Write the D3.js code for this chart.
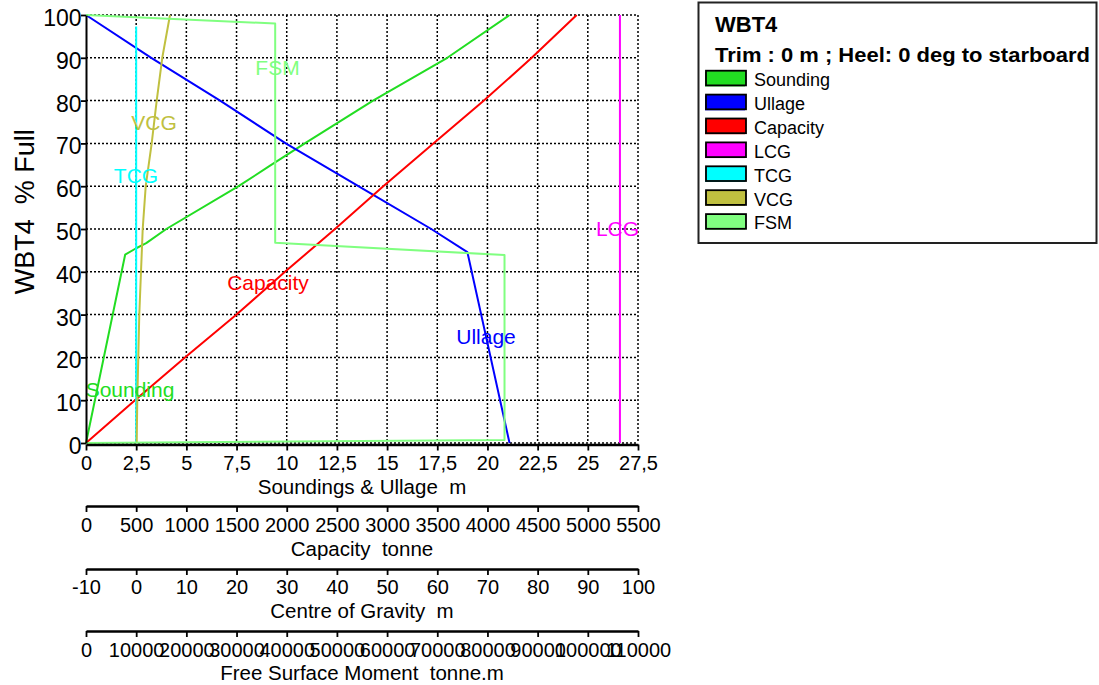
<!DOCTYPE html>
<html>
<head>
<meta charset="utf-8">
<script src="https://cdn.jsdelivr.net/npm/d3@7"></script>
<style>
  html, body { margin: 0; padding: 0; background: #fff; }
  svg { display: block; font-family: "Liberation Sans", Arial, sans-serif; }
</style>
</head>
<body>
<svg id="chart" width="1099" height="685"></svg>
<script>
// ---- data ----
const soundingPct = [0, 44, 45.5, 46.7, 50, 60, 64.8, 70, 80, 90, 100];
const soundingM   = [0, 1.95, 2.5, 3.0, 4.0, 7.6, 9.17, 10.9, 14.3, 18.0, 21.1];

const ullagePct = [100, 90, 80, 70, 60, 50, 44.6, 0];
const ullageM   = [0, 3.25, 6.68, 9.95, 13.57, 17.2, 19.0, 21.1];

const capacityPct = [0, 10, 20, 30, 40, 50, 60, 70, 80, 90, 100];
const capacityT   = [0, 488, 986, 1500, 1983, 2481, 2962, 3461, 3965, 4441, 4889];

const lcgPct = [0, 100];
const lcgM   = [96.4, 96.4];

const tcgPct = [0, 97.3];
const tcgM   = [0, 0];

const vcgPct = [0, 10, 20, 30, 40, 50, 60, 70, 80, 90, 100];
const vcgM   = [0.1, 0.22, 0.42, 0.62, 0.96, 1.3, 1.9, 3.09, 4.09, 5.2, 6.74];

const fsmPct = [0, 0.7, 43.9, 46.8, 98, 100];
const fsmTm  = [0, 83400, 83400, 37700, 37700, 0];

const pctTicks      = [0, 10, 20, 30, 40, 50, 60, 70, 80, 90, 100];
const soundingTicks = [0, 2.5, 5, 7.5, 10, 12.5, 15, 17.5, 20, 22.5, 25, 27.5];
const capacityTicks = [0, 500, 1000, 1500, 2000, 2500, 3000, 3500, 4000, 4500, 5000, 5500];
const cogTicks      = [-10, 0, 10, 20, 30, 40, 50, 60, 70, 80, 90, 100];
const fsmTicks      = [0, 10000, 20000, 30000, 40000, 50000, 60000, 70000, 80000, 90000, 100000, 110000];

const legendNames  = ["Sounding", "Ullage", "Capacity", "LCG", "TCG", "VCG", "FSM"];
const legendColors = ["#22dd22", "#0000ff", "#ff0000", "#ff00ff", "#00ffff", "#c0c040", "#80ff80"];

const chartTitle = "WBT4";
const chartSubtitle = "Trim : 0 m ; Heel: 0 deg to starboard";
const yTitle = "WBT4  % Full";

// ---- scales ----
const X0 = 86, X1 = 638, Y0 = 443, Y1 = 15;
const x   = d3.scaleLinear().domain([0, 27.5]).range([X0, X1]);
const cap = d3.scaleLinear().domain([0, 5500]).range([X0, X1]);
const cog = d3.scaleLinear().domain([-10, 100]).range([X0, X1]);
const fsm = d3.scaleLinear().domain([0, 110000]).range([X0, X1]);
const y   = d3.scaleLinear().domain([0, 100]).range([Y0, Y1]);

const svg = d3.select("#chart");
const FONT = '"Liberation Sans", Arial, sans-serif';

// ---- grid ----
const grid = svg.append("g");
grid.selectAll("line.v").data(soundingTicks.filter(d => d > 0)).join("line")
  .attr("x1", d => x(d)).attr("x2", d => x(d))
  .attr("y1", y(100)).attr("y2", y(0))
  .attr("stroke", "#000").attr("stroke-width", 1.5).attr("stroke-dasharray", "2,2");
grid.selectAll("line.h").data(pctTicks).join("line")
  .attr("x1", X0).attr("x2", X1)
  .attr("y1", d => y(d)).attr("y2", d => y(d))
  .attr("stroke", "#000").attr("stroke-width", 1.5).attr("stroke-dasharray", "2,2");

// ---- curves ----
function drawSeries(pcts, vals, sx, color) {
  const pts = pcts.map((p, i) => [sx(vals[i]), y(p)]);
  svg.append("path")
    .attr("d", d3.line()(pts))
    .attr("fill", "none")
    .attr("stroke", color)
    .attr("stroke-width", 2)
    .attr("stroke-linejoin", "round");
}
drawSeries(soundingPct, soundingM, x, legendColors[0]);
drawSeries(ullagePct, ullageM, x, legendColors[1]);
drawSeries(capacityPct, capacityT, cap, legendColors[2]);
drawSeries(lcgPct, lcgM, cog, legendColors[3]);
drawSeries(tcgPct, tcgM, cog, legendColors[4]);
drawSeries(vcgPct, vcgM, cog, legendColors[5]);
drawSeries(fsmPct, fsmTm, fsm, legendColors[6]);

// ---- curve labels ----
const curveLabels = [
  { t: "Sounding", c: legendColors[0], x: 130, y: 397 },
  { t: "Ullage",   c: legendColors[1], x: 486, y: 344 },
  { t: "Capacity", c: legendColors[2], x: 268, y: 290 },
  { t: "LCG",      c: legendColors[3], x: 617.5, y: 236 },
  { t: "TCG",      c: legendColors[4], x: 136, y: 183 },
  { t: "VCG",      c: legendColors[5], x: 154, y: 130 },
  { t: "FSM",      c: legendColors[6], x: 277.5, y: 75 }
];
svg.append("g").selectAll("text").data(curveLabels).join("text")
  .attr("x", d => d.x).attr("y", d => d.y)
  .attr("text-anchor", "middle")
  .attr("font-size", 21)
  .attr("fill", d => d.c)
  .text(d => d.t);

// ---- axes ----
function styleAxis(g, fontSize, labelY) {
  g.select(".domain").attr("stroke", "#000").attr("stroke-width", 2.5);
  g.selectAll(".tick line").attr("stroke", "#000").attr("stroke-width", 1.8);
  g.selectAll(".tick text")
    .attr("font-size", fontSize).attr("font-family", FONT).attr("fill", "#000")
    .attr("y", labelY).attr("dy", 0);
}
const commaFmt = d => String(d).replace(".", ",");
const plainFmt = d => String(d);

const ax1 = svg.append("g").attr("transform", `translate(0,${Y0 + 1.5})`)
  .call(d3.axisBottom(x).tickValues(soundingTicks).tickFormat(commaFmt).tickSize(6).tickSizeOuter(0));
styleAxis(ax1, 20, 25);

const ax2 = svg.append("g").attr("transform", "translate(0,506)")
  .call(d3.axisBottom(cap).tickValues(capacityTicks).tickFormat(plainFmt).tickSize(6).tickSizeOuter(0));
styleAxis(ax2, 20, 26);

const ax3 = svg.append("g").attr("transform", "translate(0,569)")
  .call(d3.axisBottom(cog).tickValues(cogTicks).tickFormat(plainFmt).tickSize(6).tickSizeOuter(0));
styleAxis(ax3, 20, 25);

const ax4 = svg.append("g").attr("transform", "translate(0,631)")
  .call(d3.axisBottom(fsm).tickValues(fsmTicks).tickFormat(plainFmt).tickSize(6).tickSizeOuter(0));
styleAxis(ax4, 20, 26);

const axY = svg.append("g").attr("transform", `translate(${X0},0)`)
  .call(d3.axisLeft(y).tickValues(pctTicks).tickSize(5).tickSizeOuter(0));
axY.select(".domain").attr("stroke", "#000").attr("stroke-width", 2);
axY.selectAll(".tick line").attr("stroke", "#000").attr("stroke-width", 1.8);
axY.selectAll(".tick text")
  .attr("font-size", 23).attr("font-family", FONT).attr("fill", "#000")
  .attr("x", -4.5).attr("dy", 0).attr("y", 10.5);

// ---- axis titles ----
const axisTitles = [
  { t: "Soundings & Ullage  m", y: 494 },
  { t: "Capacity  tonne", y: 556 },
  { t: "Centre of Gravity  m", y: 618 },
  { t: "Free Surface Moment  tonne.m", y: 680 }
];
svg.append("g").selectAll("text").data(axisTitles).join("text")
  .attr("x", (X0 + X1) / 2).attr("y", d => d.y)
  .attr("text-anchor", "middle").attr("font-size", 20.5).attr("fill", "#000")
  .style("white-space", "pre")
  .text(d => d.t);

svg.append("text")
  .attr("transform", "translate(33.5,211.7) rotate(-90)")
  .attr("text-anchor", "middle").attr("font-size", 27).attr("fill", "#000")
  .style("white-space", "pre")
  .text(yTitle);

// ---- legend ----
const lg = svg.append("g");
lg.append("rect").attr("x", 698.5).attr("y", 2.5).attr("width", 398).attr("height", 240.5)
  .attr("fill", "#fff").attr("stroke", "#222").attr("stroke-width", 2);
lg.append("text").attr("x", 715).attr("y", 31.7).attr("font-size", 22).attr("font-weight", "bold")
  .attr("fill", "#000").text(chartTitle);
lg.append("text").attr("x", 715).attr("y", 61.7).attr("font-size", 20).attr("font-weight", "bold")
  .attr("fill", "#000").attr("textLength", 375).attr("lengthAdjust", "spacingAndGlyphs")
  .style("white-space", "pre").text(chartSubtitle);

const rows = lg.selectAll("g.row").data(legendNames).join("g")
  .attr("transform", (d, i) => `translate(0,${86 + i * 23.9})`);
rows.append("rect").attr("x", 705).attr("y", -14.3).attr("width", 40).attr("height", 14.7)
  .attr("fill", (d, i) => legendColors[i]);
rows.append("rect").attr("x", 706).attr("y", -15.3).attr("width", 40).attr("height", 14.7)
  .attr("fill", (d, i) => legendColors[i]).attr("stroke", "#000").attr("stroke-width", 1.8);
rows.append("text").attr("x", 754).attr("y", 0).attr("font-size", 18).attr("fill", "#000")
  .text(d => d);
</script>
</body>
</html>
